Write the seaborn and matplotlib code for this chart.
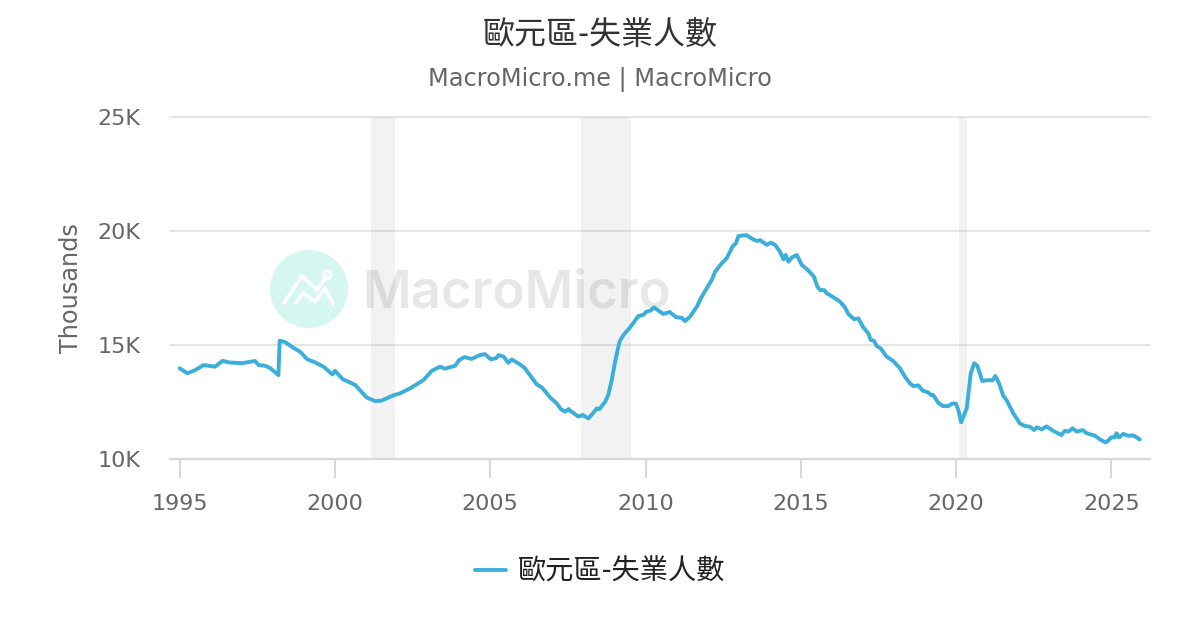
import pandas as pd
import matplotlib.pyplot as plt
import seaborn as sns
from matplotlib.patches import Circle

# ==================== data ====================
title = '歐元區-失業人數'
subtitle = 'MacroMicro.me | MacroMicro'
y_label = 'Thousands'
x_ticks = [1995, 2000, 2005, 2010, 2015, 2020, 2025]
y_ticks = [10, 15, 20, 25]
y_tick_labels = ['10K', '15K', '20K', '25K']
recessions = [(2001.16, 2001.94), (2007.92, 2009.53), (2020.09, 2020.35)]

years = [
    1995.0, 1995.25, 1995.5, 1995.77, 1996.14, 1996.39, 1996.57, 1997.0, 1997.43, 1997.54,
    1997.75, 1997.92, 1998.18, 1998.22, 1998.39, 1998.66, 1998.88, 1999.11, 1999.36, 1999.63,
    1999.92, 2000.0, 2000.25, 2000.65, 2001.02, 2001.29, 2001.5, 2001.88, 2002.1, 2002.42,
    2002.85, 2003.11, 2003.38, 2003.54, 2003.87, 2004.0, 2004.17, 2004.4, 2004.67, 2004.83,
    2005.02, 2005.19, 2005.27, 2005.43, 2005.58, 2005.69, 2005.9, 2006.09, 2006.5, 2006.66,
    2006.93, 2007.14, 2007.27, 2007.41, 2007.52, 2007.57, 2007.84, 2007.98, 2008.16, 2008.32,
    2008.43, 2008.51, 2008.7, 2008.8, 2008.91, 2009.02, 2009.16, 2009.29, 2009.5, 2009.77,
    2009.93, 2010.02, 2010.15, 2010.27, 2010.57, 2010.77, 2011.0, 2011.16, 2011.27, 2011.43,
    2011.65, 2011.81, 2012.0, 2012.13, 2012.24, 2012.45, 2012.61, 2012.81, 2012.91, 2012.99,
    2013.24, 2013.47, 2013.6, 2013.69, 2013.9, 2014.04, 2014.17, 2014.33, 2014.44, 2014.51,
    2014.6, 2014.71, 2014.87, 2015.03, 2015.19, 2015.27, 2015.42, 2015.53, 2015.62, 2015.75,
    2015.83, 2016.1, 2016.26, 2016.42, 2016.53, 2016.71, 2016.85, 2017.01, 2017.17, 2017.25,
    2017.35, 2017.44, 2017.57, 2017.76, 2017.97, 2018.19, 2018.35, 2018.51, 2018.62, 2018.78,
    2018.92, 2019.1, 2019.19, 2019.26, 2019.42, 2019.58, 2019.75, 2019.87, 2019.99, 2020.07,
    2020.16, 2020.34, 2020.47, 2020.58, 2020.68, 2020.84, 2021.0, 2021.17, 2021.26, 2021.38,
    2021.52, 2021.62, 2021.84, 2022.05, 2022.21, 2022.37, 2022.51, 2022.59, 2022.75, 2022.91,
    2023.13, 2023.39, 2023.5, 2023.61, 2023.75, 2023.88, 2024.07, 2024.2, 2024.47, 2024.63,
    2024.82, 2025.0, 2025.11, 2025.16, 2025.24, 2025.38, 2025.54, 2025.7, 2025.91,
]
unemployed = [
    13.98, 13.76, 13.9, 14.12, 14.05, 14.31, 14.24, 14.2, 14.3, 14.12,
    14.09, 13.98, 13.68, 15.19, 15.13, 14.88, 14.7, 14.37, 14.24, 14.05,
    13.71, 13.87, 13.5, 13.25, 12.7, 12.54, 12.56, 12.79, 12.88, 13.1,
    13.46, 13.86, 14.05, 13.96, 14.09, 14.34, 14.47, 14.39, 14.56, 14.6,
    14.37, 14.42, 14.56, 14.49, 14.22, 14.37, 14.2, 14.02, 13.27, 13.14,
    12.7, 12.44, 12.19, 12.08, 12.19, 12.12, 11.86, 11.93, 11.78, 12.03,
    12.22, 12.18, 12.51, 12.81, 13.46, 14.27, 15.15, 15.44, 15.77, 16.27,
    16.32, 16.46, 16.5, 16.65, 16.36, 16.45, 16.21, 16.2, 16.05, 16.24,
    16.68, 17.12, 17.56, 17.85, 18.22, 18.58, 18.8, 19.34, 19.46, 19.78,
    19.82, 19.63, 19.56, 19.6, 19.39, 19.49, 19.39, 19.09, 18.76, 18.95,
    18.65, 18.84, 18.95, 18.51, 18.33, 18.22, 18.0, 17.56, 17.41, 17.41,
    17.27, 17.05, 16.9, 16.65, 16.36, 16.13, 16.17, 15.77, 15.51, 15.22,
    15.19, 14.96, 14.85, 14.49, 14.3, 13.98, 13.61, 13.32, 13.2, 13.23,
    13.0, 12.92, 12.81, 12.81, 12.47, 12.32, 12.32, 12.43, 12.43, 12.15,
    11.61, 12.22, 13.76, 14.2, 14.09, 13.42, 13.46, 13.45, 13.64, 13.32,
    12.76, 12.59, 12.0, 11.56, 11.45, 11.42, 11.27, 11.39, 11.3, 11.43,
    11.23, 11.05, 11.24, 11.2, 11.35, 11.2, 11.27, 11.13, 11.02, 10.86,
    10.72, 10.95, 10.95, 11.13, 10.95, 11.1, 11.02, 11.04, 10.86,
]

df = pd.DataFrame({'year': years, title: unemployed})

# ==================== style ====================
sns.set_theme(style='white')
plt.rcParams['font.family'] = ['DejaVu Sans', 'Noto Sans CJK TC']
cjk = ['Noto Sans CJK TC', 'DejaVu Sans']
line_color = '#3bafda'
text_gray = '#666666'

fig = plt.figure(figsize=(12, 6.3), dpi=100)

# watermark sits in its own pixel-coordinate axes, behind the chart
bg = fig.add_axes([0, 0, 1, 1], zorder=0)
bg.set_xlim(0, 1200)
bg.set_ylim(630, 0)
bg.axis('off')
bg.add_patch(Circle((309, 289), 39, color='#d5f7f0', lw=0))
bg.plot([284, 302, 317, 327], [303, 276, 290, 276], color='white', lw=2.5, solid_capstyle='round')
bg.plot([296, 303, 315, 325, 333], [303, 293, 302, 288, 304], color='white', lw=2.5, solid_capstyle='round')
bg.add_patch(Circle((327, 275), 4, fc='#d5f7f0', ec='white', lw=2))
bg.text(362, 308, 'MacroMicro', family='Inter', fontweight='semibold', fontsize=38,
        color='#e6e8e7', ha='left', va='baseline')

# ==================== chart ====================
ax = fig.add_axes([170 / 1200, 1 - 459 / 630, 980 / 1200, 342 / 630], zorder=1)
ax.patch.set_alpha(0)

for start, end in recessions:
    ax.axvspan(start, end, color='black', alpha=0.05, lw=0, zorder=1)

sns.lineplot(data=df, x='year', y=title, ax=ax, color=line_color, linewidth=2.8, label=title, zorder=3)

ax.set_xlim(1994.69, 2026.24)
ax.set_ylim(10, 25)
ax.set_xticks(x_ticks)
ax.set_yticks(y_ticks)
ax.set_yticklabels(y_tick_labels)
ax.set_xlabel('')
ax.set_ylabel(y_label, color=text_gray, fontsize=17.3, labelpad=10.5)
ax.yaxis.grid(True, color='#e6e6e6', lw=1.5, zorder=0, clip_on=False)
ax.set_axisbelow(True)
sns.despine(ax=ax, left=True)
ax.spines['bottom'].set_color('#d8d8d8')
ax.spines['bottom'].set_linewidth(1.5)
ax.tick_params(axis='x', bottom=True, length=14, width=1.5, color='#d8d8d8', labelcolor=text_gray,
               labelsize=16, pad=11.4)
ax.tick_params(axis='y', left=False, labelcolor=text_gray, labelsize=16, pad=15)

handles, labels = ax.get_legend_handles_labels()
ax.legend_.remove()
fig.legend(handles, labels, loc='center', bbox_to_anchor=(600 / 1200, 1 - 572 / 630), frameon=False,
           prop={'family': cjk, 'size': 20.3}, labelcolor='#222222', handlelength=1.1, handletextpad=0.4)

fig.text(0.5, 1 - 35 / 630, title, ha='center', va='center', family=cjk, fontsize=23, color='#333333')
fig.text(0.5, 1 - 80 / 630, subtitle, ha='center', va='center', fontsize=17.3, color=text_gray)

fig.savefig('out.png', dpi=100)
